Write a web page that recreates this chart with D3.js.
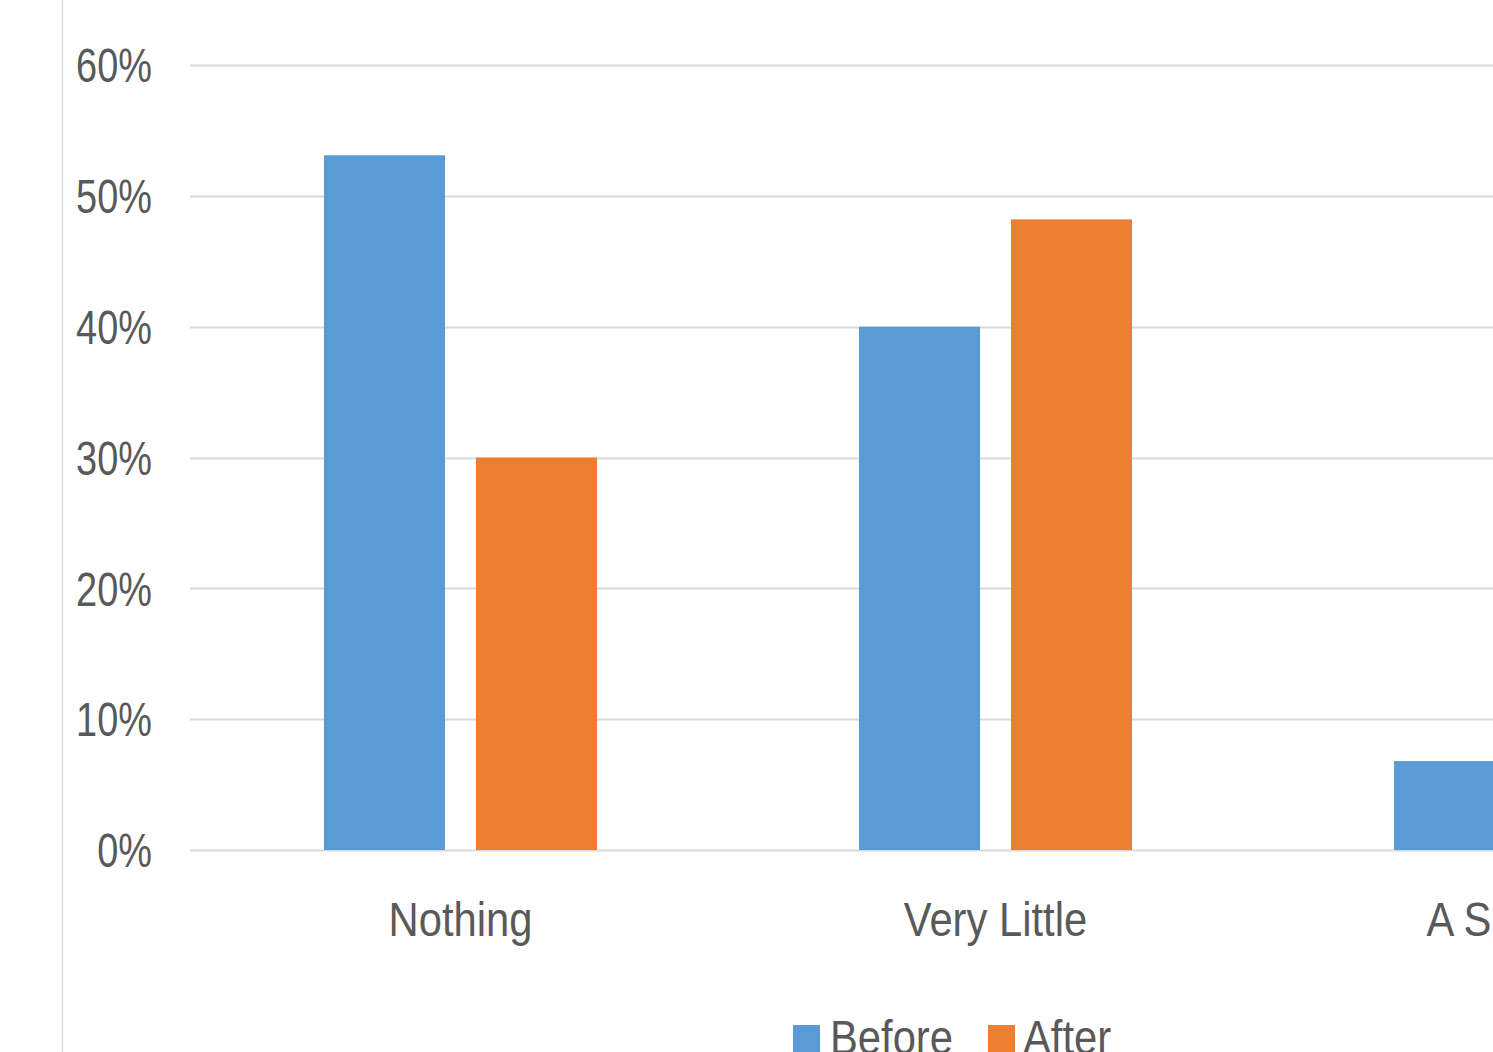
<!DOCTYPE html>
<html>
<head>
<meta charset="utf-8">
<script src="https://cdn.jsdelivr.net/npm/d3@7"></script>
<style>
  html, body { margin: 0; padding: 0; background: #fff; overflow: hidden; }
  svg { display: block; }
  text { font-family: "Liberation Sans", Arial, sans-serif; fill: #595959; }
</style>
</head>
<body>
<svg id="chart" width="1493" height="1052"></svg>
<script>
// Survey responses: share of respondents before and after
const categories = ["Nothing", "Very Little", "A Sufficient"];
const seriesNames = ["Before", "After"];
const beforeValues = [0.531, 0.40, 0.068];
const afterValues = [0.30, 0.482, 0.17];
const yTicks = [0, 0.1, 0.2, 0.3, 0.4, 0.5, 0.6];
const colors = { Before: "#5B9BD5", After: "#ED7D31" };

const W = 1493, H = 1052;
const svg = d3.select("#chart");

// horizontal squeeze that gives the text a condensed, Calibri-like width
const tickSqueeze = 0.79, labelSqueeze = 0.87;

const plot = { left: 193, top: 65, bottom: 850, step: 535 };

const x = d3.scaleBand()
  .domain(categories)
  .range([plot.left, plot.left + plot.step * categories.length])
  .paddingInner(0).paddingOuter(0);

const xInner = d3.scaleBand()
  .domain(seriesNames)
  .range([0, 273])
  .paddingInner(0.204);

const y = d3.scaleLinear().domain([0, 0.6]).range([plot.bottom, plot.top]);

// chart-area border on the left
svg.append("line")
  .attr("x1", 62.5).attr("x2", 62.5).attr("y1", 0).attr("y2", H)
  .attr("stroke", "#D9D9D9").attr("stroke-width", 1.5);

// y axis labels
const yAxis = d3.axisLeft(y).tickValues(yTicks).tickFormat(d3.format(".0%")).tickSize(0).tickPadding(0);
const gy = svg.append("g").attr("transform", "translate(152,0)").call(yAxis);
gy.select(".domain").remove();
gy.selectAll("text")
  .attr("font-size", 48)
  .attr("font-family", null)
  .attr("fill", null)
  .attr("x", 0)
  .attr("dy", "0.35em")
  .attr("transform", `scale(${tickSqueeze},1)`);

// horizontal gridlines
svg.append("g").selectAll("line")
  .data(yTicks)
  .join("line")
  .attr("x1", 190).attr("x2", W)
  .attr("y1", d => Math.round(y(d)) + 0.5).attr("y2", d => Math.round(y(d)) + 0.5)
  .attr("stroke", "#D9D9D9").attr("stroke-width", 2);

// bars
const rows = categories.map((c, i) => ({ category: c, Before: beforeValues[i], After: afterValues[i] }));
const groups = svg.append("g").selectAll("g")
  .data(rows)
  .join("g")
  .attr("transform", d => `translate(${x(d.category) + (x.bandwidth() - 273) / 2},0)`);

groups.selectAll("rect")
  .data(d => seriesNames.map(s => ({ series: s, value: d[s] })))
  .join("rect")
  .attr("x", d => xInner(d.series))
  .attr("width", xInner.bandwidth())
  .attr("y", d => y(d.value))
  .attr("height", d => y(0) - y(d.value))
  .attr("fill", d => colors[d.series]);

// category labels
svg.append("g").selectAll("g")
  .data(categories)
  .join("g")
  .attr("transform", d => `translate(${x(d) + x.bandwidth() / 2},936)`)
  .append("text")
  .attr("text-anchor", "middle")
  .attr("font-size", 48)
  .attr("transform", `scale(${labelSqueeze},1)`)
  .text(d => d);

// legend
const legendItems = [
  { name: "Before", sx: 793, tx: 830 },
  { name: "After", sx: 988, tx: 1023 }
];
const legend = svg.append("g").selectAll("g")
  .data(legendItems)
  .join("g");
legend.append("rect")
  .attr("x", d => d.sx).attr("y", 1025).attr("width", 27).attr("height", 27)
  .attr("fill", d => colors[d.name]);
legend.append("g")
  .attr("transform", d => `translate(${d.tx},1054)`)
  .append("text")
  .attr("font-size", 48)
  .attr("transform", `scale(${labelSqueeze},1)`)
  .text(d => d.name);
</script>
</body>
</html>
